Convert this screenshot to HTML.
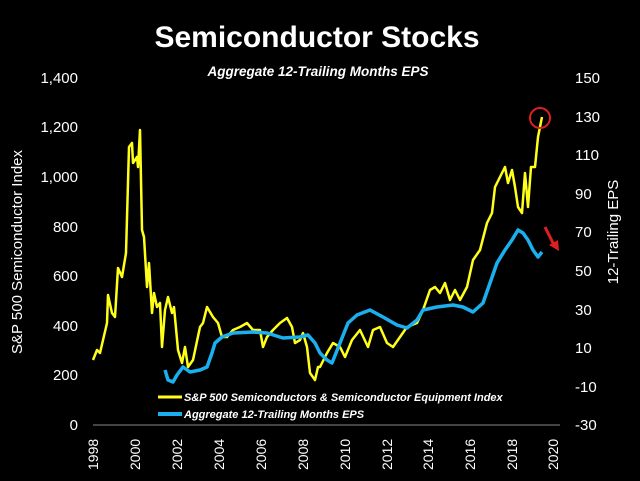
<!DOCTYPE html>
<html><head><style>
body{margin:0;background:#000;}
svg{display:block;font-family:"Liberation Sans",sans-serif;}
</style></head><body>
<svg width="640" height="481" viewBox="0 0 640 481">
<rect width="640" height="481" fill="#000"/>
<text x="317" y="47" text-anchor="middle" fill="#fff" font-size="30" font-weight="bold">Semiconductor Stocks</text>
<text x="318" y="76" text-anchor="middle" fill="#fff" font-size="13.5" font-weight="bold" font-style="italic">Aggregate 12-Trailing Months EPS</text>
<g fill="#fff" font-size="15" text-anchor="end">
<text x="78" y="83">1,400</text><text x="78" y="132">1,200</text><text x="78" y="182">1,000</text>
<text x="78" y="232">800</text><text x="78" y="281">600</text><text x="78" y="331">400</text>
<text x="78" y="380">200</text><text x="78" y="430">0</text>
</g>
<g fill="#fff" font-size="15" text-anchor="start">
<text x="575" y="83">150</text><text x="575" y="122">130</text><text x="575" y="160">110</text>
<text x="575" y="199">90</text><text x="575" y="237">70</text><text x="575" y="276">50</text>
<text x="575" y="315">30</text><text x="575" y="353">10</text><text x="575" y="392">-10</text><text x="575" y="430">-30</text>
</g>
<text transform="translate(22,252) rotate(-90)" text-anchor="middle" fill="#fff" font-size="15">S&amp;P 500 Semiconductor Index</text>
<text transform="translate(618,232) rotate(-90)" text-anchor="middle" fill="#fff" font-size="15">12-Trailing EPS</text>
<line x1="93" y1="425" x2="560" y2="425" stroke="#888" stroke-width="1"/>
<g fill="#fff" font-size="14">
<text transform="translate(98,470) rotate(-90)">1998</text>
<text transform="translate(140,470) rotate(-90)">2000</text>
<text transform="translate(182,470) rotate(-90)">2002</text>
<text transform="translate(224,470) rotate(-90)">2004</text>
<text transform="translate(266,470) rotate(-90)">2006</text>
<text transform="translate(308,470) rotate(-90)">2008</text>
<text transform="translate(350,470) rotate(-90)">2010</text>
<text transform="translate(392,470) rotate(-90)">2012</text>
<text transform="translate(433,470) rotate(-90)">2014</text>
<text transform="translate(475,470) rotate(-90)">2016</text>
<text transform="translate(517,470) rotate(-90)">2018</text>
<text transform="translate(558,470) rotate(-90)">2020</text>
</g>
<polyline fill="none" stroke="#ffff1a" stroke-width="2.5" stroke-linejoin="round" points="93,360 97,350 100,353 107,323 108,295 112,313 115,317 118,268 122,277 126,253 129,147 132,143 133,163 137,157 138,167 140,130 142,230 144,237 147,287 149,263 152,313 154,293 157,307 160,303 162,347 165,310 168,297 172,313 174,307 178,350 182,363 185,347 188,367 193,360 200,327 203,323 207,307 213,317 218,323 222,337 227,337 233,330 240,327 247,323 253,330 260,330 263,347 267,337 273,330 280,323 287,318 292,327 295,343 300,340 303,333 307,347 310,373 315,380 318,367 320,367 327,353 333,343 340,347 345,357 352,340 360,330 368,347 373,330 380,327 387,343 393,347 400,337 407,327 417,323 423,310 430,290 435,287 440,293 445,283 450,300 455,290 460,300 467,287 473,260 480,250 487,223 492,213 495,187 500,177 505,167 508,183 512,170 515,187 518,207 522,213 525,173 528,207 531,167 535,167 538,137 542,117"/>
<polyline fill="none" stroke="#1ab0f0" stroke-width="3.5" stroke-linejoin="round" points="165,370 168,380 173,382 177,375 183,367 190,372 200,370 207,367 212,353 215,343 222,337 233,333 253,332 267,333 283,338 300,337 308,335 315,343 320,353 327,360 332,363 340,343 348,323 357,315 370,310 383,317 397,325 407,328 417,320 423,310 437,307 453,305 463,307 473,312 483,303 490,283 497,263 505,250 512,240 518,230 523,233 528,240 533,250 538,257 542,252"/>
<circle cx="540" cy="118" r="10" fill="none" stroke="#e02020" stroke-width="2"/>
<line x1="545" y1="227" x2="554" y2="245" stroke="#e02020" stroke-width="3"/>
<polygon points="549,245 559,251 558,240" fill="#e02020"/>
<line x1="158" y1="397" x2="182" y2="397" stroke="#ffff1a" stroke-width="3"/>
<line x1="158" y1="414" x2="182" y2="414" stroke="#1ab0f0" stroke-width="4"/>
<g fill="#fff" font-size="11" font-weight="bold" font-style="italic">
<text x="184" y="401">S&amp;P 500 Semiconductors &amp; Semiconductor Equipment Index</text>
<text x="184" y="418">Aggregate 12-Trailing Months EPS</text>
</g>
</svg>
</body></html>
